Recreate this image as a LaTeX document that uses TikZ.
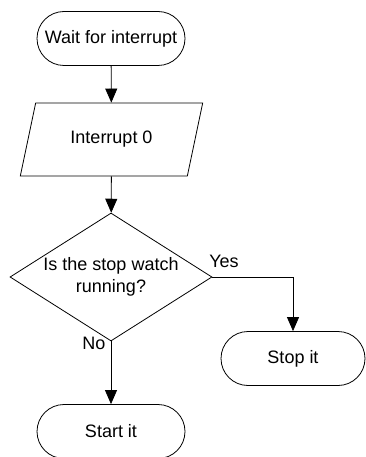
\documentclass[tikz,border=0pt]{standalone}
\usepackage{fontspec}
\setmainfont{Liberation Sans}
\usetikzlibrary{shapes.geometric,arrows.meta}
\begin{document}
\begin{tikzpicture}[x=1pt,y=-1pt,
  every node/.style={font=\fontsize{18}{22}\selectfont},
  term/.style={draw,line width=0.8pt,rectangle,rounded corners=27pt,minimum width=#1,minimum height=54pt,inner sep=0pt},
  io/.style={draw,line width=0.8pt,trapezium,trapezium left angle=63,trapezium right angle=117,trapezium stretches=true,minimum width=183pt,minimum height=73pt,inner sep=0pt},
  decision/.style={draw,line width=0.8pt,diamond,minimum width=202pt,minimum height=128pt,inner sep=0pt},
  flow/.style={line width=0.8pt,-{Triangle[width=12pt,length=14pt]}}
]
\useasboundingbox (0,0) rectangle (366,457);
\node[term=148pt] (wait) at (111,38.5) {Wait for interrupt};
\node[io] (int) at (111.5,139.5) {Interrupt 0};
\node[decision] (dec) at (111,277) {};
\node[align=center,inner sep=0pt] (dectext) at (111,277) {Is the stop watch\\running?};
\node[term=144pt] (stop) at (293,358.5) {Stop it};
\node[term=148pt] (start) at (111,431.5) {Start it};
\node (yes) at (224,261) {Yes};
\node (no) at (94,343) {No};
\draw[flow] (wait) -- (int);
\draw[flow] (int) -- (dec);
\draw[flow] (dec.east) -| (stop.north);
\draw[flow] (dec.south) -- (start.north);
\end{tikzpicture}
\end{document}
